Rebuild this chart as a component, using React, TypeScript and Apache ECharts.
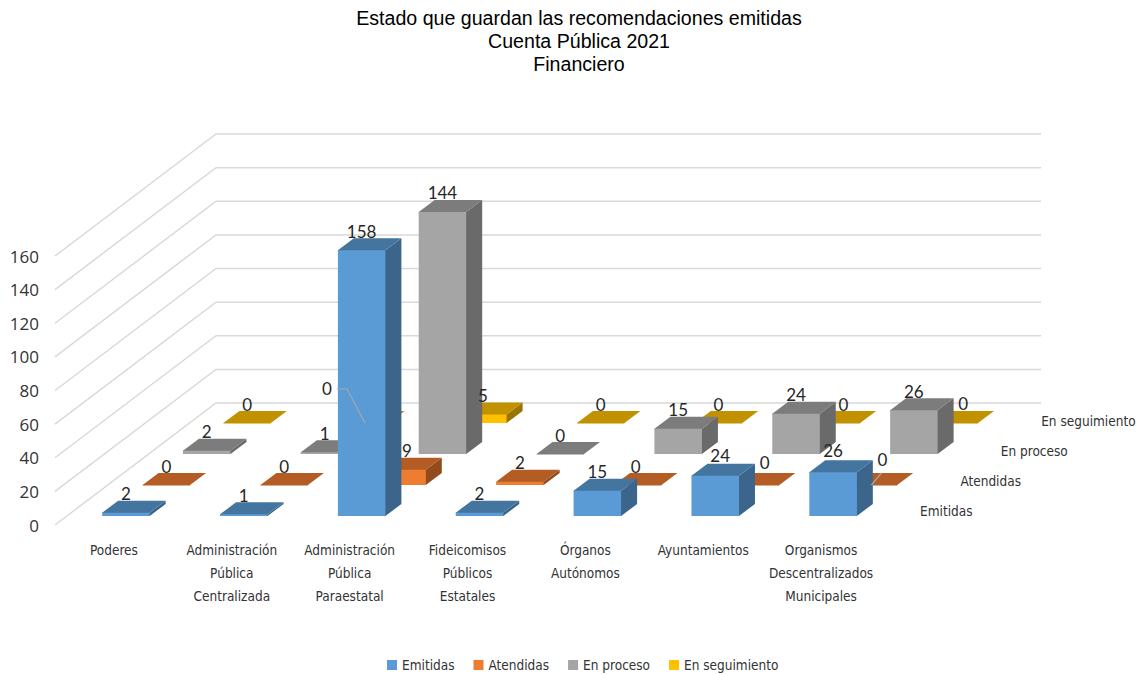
import React, { useEffect, useRef } from "react";
import * as echarts from "echarts";

const titleLines = ["Estado que guardan las recomendaciones emitidas", "Cuenta Pública 2021", "Financiero"];
const categories = [
  "Poderes",
  "Administración\nPública\nCentralizada",
  "Administración\nPública\nParaestatal",
  "Fideicomisos\nPúblicos\nEstatales",
  "Órganos\nAutónomos",
  "Ayuntamientos",
  "Organismos\nDescentralizados\nMunicipales",
];
const emitidas = [2, 1, 158, 2, 15, 24, 26];
const atendidas = [0, 0, 9, 2, 0, 0, 0];
const enProceso = [2, 1, 144, 0, 15, 24, 26];
const enSeguimiento = [0, 0, 5, 0, 0, 0, 0];
const seriesNames = ["Emitidas", "Atendidas", "En proceso", "En seguimiento"];
const seriesValues = [emitidas, atendidas, enProceso, enSeguimiento];
const frontColors = ["#5B9BD5", "#ED7D31", "#A5A5A5", "#FFC000"];
const topColors = ["#44759F", "#B35C24", "#7C7C7C", "#C19100"];
const sideColors = ["#3B658B", "#934B1E", "#6A6A6A", "#9A7400"];
const yTicks = [0, 20, 40, 60, 80, 100, 120, 140, 160];

const NARROW = '"DejaVu Sans Condensed", sans-serif';
const BAR_W = 47.5;
const DEPTH_X = 16;
const DEPTH_Y = 12;
const ROW_DX = 40.4;
const ROW_DY = 31;
const FRONT_DX = 12;
const FRONT_DY = -9;
const WALL_DX = 161;
const WALL_DY = 122;
const SEAM = 0.6;

function geom(api: any, cat: number, row: number, val: number) {
  const [cx, y0] = api.coord([cat, 0]);
  const [, yv] = api.coord([cat, val]);
  const center = cx + FRONT_DX + row * ROW_DX;
  const off = FRONT_DY - row * ROW_DY;
  return { center, left: center - BAR_W / 2, right: center + BAR_W / 2, base: y0 + off, top: yv + off };
}

function barSeries(row: number) {
  return {
    type: "custom",
    name: seriesNames[row],
    coordinateSystem: "cartesian2d",
    z: 5 - row,
    silent: true,
    itemStyle: { color: frontColors[row] },
    encode: { x: 0, y: 1 },
    data: seriesValues[row].map((v, i) => [i, v]),
    renderItem: (_p: any, api: any) => {
      const g = geom(api, api.value(0), row, api.value(1));
      return {
        type: "group",
        children: [
          {
            type: "polygon",
            shape: {
              points: [
                [g.right - SEAM, g.base],
                [g.right, g.base],
                [g.right + DEPTH_X, g.base - DEPTH_Y],
                [g.right + DEPTH_X, g.top - DEPTH_Y],
                [g.right, g.top],
                [g.right - SEAM, g.top],
              ],
            },
            style: { fill: sideColors[row] },
          },
          {
            type: "polygon",
            shape: {
              points: [
                [g.left, g.top + SEAM],
                [g.right, g.top + SEAM],
                [g.right, g.top],
                [g.right + DEPTH_X, g.top - DEPTH_Y],
                [g.left + DEPTH_X, g.top - DEPTH_Y],
                [g.left, g.top],
              ],
            },
            style: { fill: topColors[row] },
          },
          {
            type: "polygon",
            shape: { points: [[g.left, g.base], [g.right, g.base], [g.right, g.top], [g.left, g.top]] },
            style: { fill: frontColors[row] },
          },
        ],
      };
    },
  };
}

// Labels moved away from their bars in the reference: `${row}-${category}`
const movedLabels: Record<string, { dx: number; dy: number; leader?: "bend" | "straight" }> = {
  "3-1": { dx: -38, dy: -16, leader: "bend" },
  "1-6": { dx: 9, dy: -7, leader: "straight" },
  "1-2": { dx: 5, dy: 0 },
  "1-5": { dx: 9, dy: -4 },
  "1-4": { dx: -2, dy: 0 },
  "3-5": { dx: 7, dy: 0 },
  "3-6": { dx: 9, dy: -1 },
  "0-5": { dx: 5, dy: -1 },
  "0-6": { dx: 0, dy: -3 },
};

const labelRows = seriesValues.flatMap((vals, row) => vals.map((v, cat) => [cat, v, row]));

function App() {
  const ref = useRef<HTMLDivElement>(null);
  useEffect(() => {
    const chart = echarts.init(ref.current!, undefined, { renderer: "svg" });
    chart.setOption({
      animation: false,
      backgroundColor: "#ffffff",
      title: {
        text: titleLines.join("\n"),
        left: 574,
        top: 1,
        textAlign: "center",
        textStyle: {
          fontFamily: '"Liberation Sans", Arial, sans-serif',
          fontSize: 19.6,
          fontWeight: "normal",
          color: "#000000",
          lineHeight: 23,
        },
      },
      legend: {
        data: seriesNames,
        left: 382,
        top: 653,
        itemWidth: 10,
        itemHeight: 10,
        itemGap: 19,
        icon: "rect",
        textStyle: { fontFamily: NARROW, fontSize: 13.5, color: "#333333" },
      },
      grid: { left: 55, top: 256, width: 825, height: 269, containLabel: false },
      xAxis: {
        type: "category",
        data: categories,
        axisLine: { show: false },
        axisTick: { show: false },
        axisLabel: {
          interval: 0,
          margin: 13,
          fontFamily: NARROW,
          fontSize: 13.5,
          lineHeight: 23,
          color: "#333333",
          verticalAlign: "top",
        },
      },
      yAxis: {
        type: "value",
        min: 0,
        max: 160,
        interval: 20,
        axisLine: { show: false },
        axisTick: { show: false },
        splitLine: { show: false },
        axisLabel: {
          margin: 16,
          fontFamily: '"Open Sans", sans-serif',
          fontSize: 17,
          color: "#333333",
        },
      },
      series: [
        {
          type: "custom",
          name: "walls",
          coordinateSystem: "cartesian2d",
          z: 0,
          silent: true,
          encode: { x: 0, y: 1 },
          data: yTicks.map((v) => [0, v]),
          renderItem: (params: any, api: any) => {
            const cs = params.coordSys;
            const y = api.coord([0, api.value(1)])[1];
            return {
              type: "polyline",
              shape: {
                points: [
                  [cs.x, y],
                  [cs.x + WALL_DX, y - WALL_DY],
                  [cs.x + cs.width + WALL_DX, y - WALL_DY],
                ],
              },
              style: { stroke: "#D9D9D9", lineWidth: 1.5, fill: "none" },
            };
          },
        },
        barSeries(3),
        barSeries(2),
        barSeries(1),
        barSeries(0),
        {
          type: "custom",
          name: "rowNames",
          coordinateSystem: "cartesian2d",
          z: 9,
          silent: true,
          encode: { x: 0, y: 1 },
          data: seriesNames.map((_, row) => [6, 0, row]),
          renderItem: (params: any, api: any) => {
            const cs = params.coordSys;
            const row = api.value(2);
            return {
              type: "text",
              x: cs.x + cs.width + 40 + row * ROW_DX,
              y: api.coord([0, 0])[1] - 14.5 - row * 30,
              style: {
                text: seriesNames[row],
                fontFamily: NARROW,
                fontSize: 13.5,
                fill: "#333333",
                textAlign: "left",
                textVerticalAlign: "middle",
              },
            };
          },
        },
        {
          type: "custom",
          name: "values",
          coordinateSystem: "cartesian2d",
          z: 10,
          silent: true,
          encode: { x: 0, y: 1 },
          data: labelRows,
          renderItem: (_p: any, api: any) => {
            const cat = api.value(0);
            const val = api.value(1);
            const row = api.value(2);
            const g = geom(api, cat, row, val);
            const moved = movedLabels[`${row}-${cat}`];
            const lx = g.center + (moved ? moved.dx : 0);
            const ly = g.top - DEPTH_Y - 7 + (moved ? moved.dy : 0);
            const children: any[] = [];
            if (moved && moved.leader === "bend") {
              children.push({
                type: "polyline",
                shape: { points: [[lx + 10, ly + 1], [lx + 20, ly + 1], [g.center, g.top]] },
                style: { stroke: "#A6A6A6", lineWidth: 1.2, fill: "none" },
              });
            } else if (moved && moved.leader === "straight") {
              children.push({
                type: "line",
                shape: { x1: lx - 1, y1: ly + 14, x2: g.center - 2, y2: g.top },
                style: { stroke: "#A6A6A6", lineWidth: 1.2 },
              });
            }
            children.push({
              type: "text",
              x: lx,
              y: ly,
              style: {
                text: String(val),
                fontFamily: 'Lato, "Open Sans", sans-serif',
                fontSize: 17,
                fill: "#262626",
                textAlign: "center",
                textVerticalAlign: "middle",
              },
            });
            return { type: "group", children };
          },
        },
      ],
    });
    return () => chart.dispose();
  }, []);
  return <div ref={ref} style={{ position: "absolute", left: 0, top: 0, width: 1137, height: 675 }} />;
}

export default App;
